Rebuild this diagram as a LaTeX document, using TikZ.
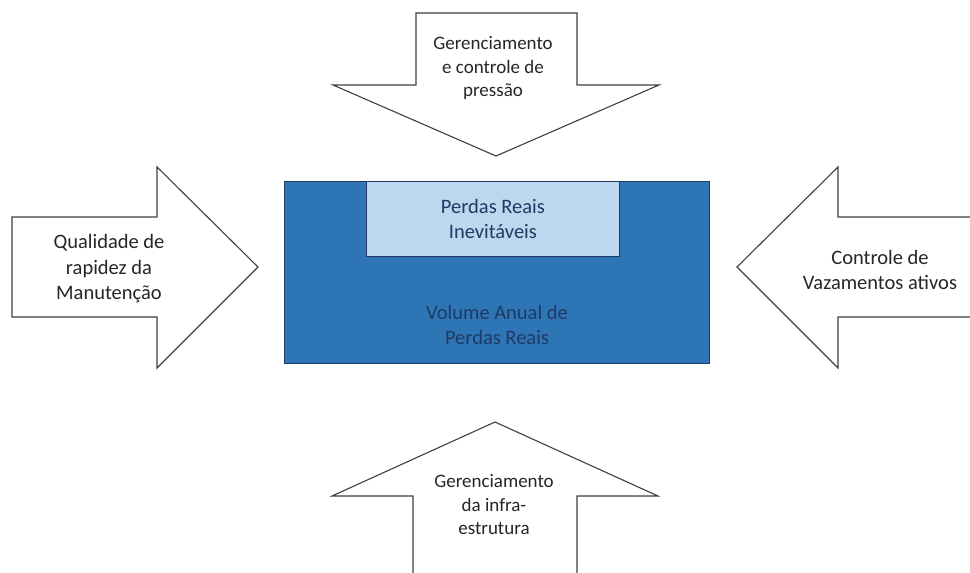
\documentclass[tikz,border=0pt]{standalone}
\usepackage{fontspec}
\setmainfont{Carlito}
\definecolor{boxblue}{HTML}{2E75B6}
\definecolor{boxlight}{HTML}{BDD7EE}
\definecolor{boxline}{HTML}{1F3864}
\definecolor{boxtext}{HTML}{1F3A64}
\definecolor{arrowline}{HTML}{3F3F3F}
\tikzset{
  bigarrow/.style={draw=arrowline, line width=1.1pt, fill=white, line join=miter},
  arrowlabel/.style={align=center, inner sep=0pt, text=black!85, font=\fontsize{19}{23.5}\selectfont},
  sidelabel/.style={arrowlabel, font=\fontsize{20.5}{25.5}\selectfont},
  boxlabel/.style={align=center, inner sep=0pt, text=boxtext, font=\fontsize{20.5}{25.5}\selectfont}
}
\begin{document}
\begin{tikzpicture}[x=1pt,y=-1pt]
	\useasboundingbox (0,0) rectangle (970,573);
	\draw[bigarrow] (416,13) -- (577,13) -- (577,85) -- (659,85) -- (496,156) -- (333,85) -- (416,85) -- cycle;
	\draw[bigarrow] (12,217) -- (157,217) -- (157,167) -- (258,267) -- (157,368) -- (157,317) -- (12,317) -- cycle;
	\fill[white] (976,217) -- (838,217) -- (838,167) -- (737,267) -- (838,368) -- (838,317) -- (976,317) -- cycle;
	\draw[bigarrow] (976,217) -- (838,217) -- (838,167) -- (737,267) -- (838,368) -- (838,317) -- (976,317);
	\fill[white] (413,580) -- (413,496) -- (332,496) -- (495,422) -- (658,496) -- (577,496) -- (577,580) -- cycle;
	\draw[bigarrow] (413,580) -- (413,496) -- (332,496) -- (495,422) -- (658,496) -- (577,496) -- (577,580);
	\node[draw=boxline, fill=boxblue, line width=0.8pt, minimum width=425pt, minimum height=182pt, anchor=north west, inner sep=0pt] (volume) at (284,181) {};
	\node[draw=boxline, fill=boxlight, line width=0.8pt, minimum width=253pt, minimum height=75pt, anchor=north west, inner sep=0pt, boxlabel] (inevitable) at (366,181) {Perdas Reais\\Inevitáveis};
	\node[boxlabel] (volumetxt) at (497,325) {Volume Anual de\\Perdas Reais};
	\node[arrowlabel] (pressure) at (493,68) {Gerenciamento\\e controle de\\pressão};
	\node[sidelabel] (repair) at (109,269) {Qualidade de\\rapidez da\\Manutenção};
	\node[sidelabel] (leaks) at (880,270) {Controle de\\Vazamentos ativos};
	\node[arrowlabel] (infra) at (494,505) {Gerenciamento\\da infra-\\estrutura};
\end{tikzpicture}
\end{document}
